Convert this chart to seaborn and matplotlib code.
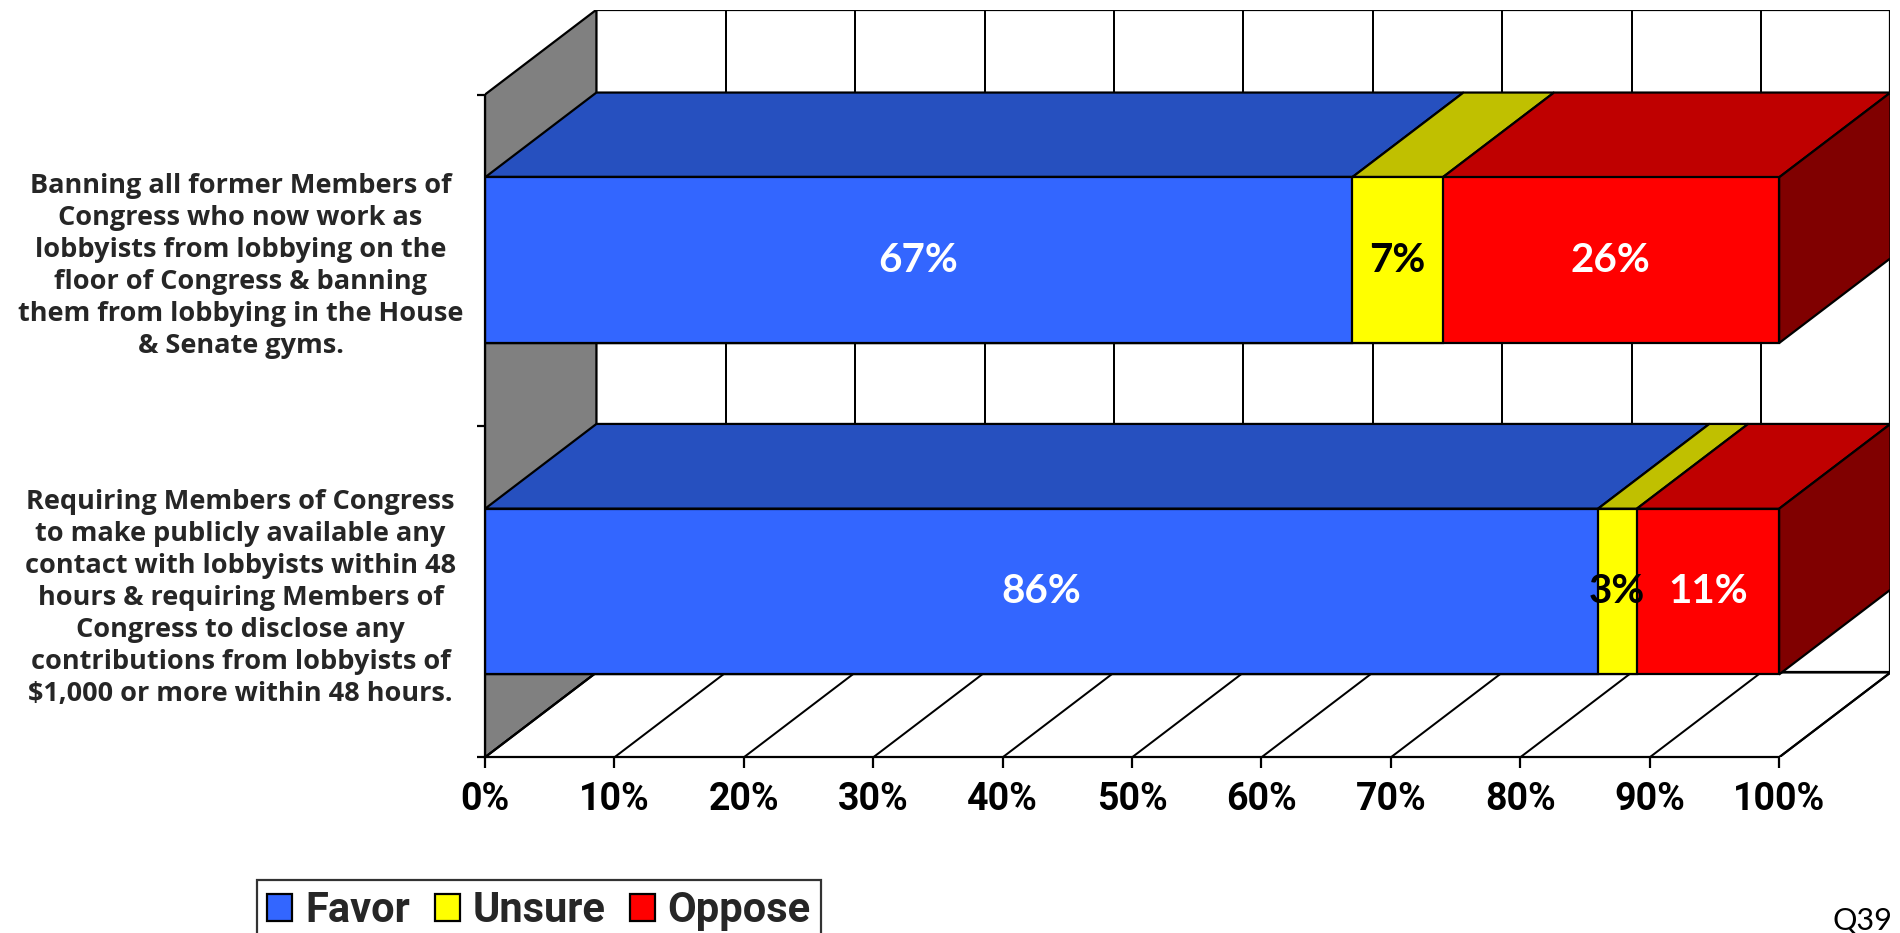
import numpy as np
import pandas as pd
import matplotlib
matplotlib.use("Agg")
import matplotlib.pyplot as plt
import seaborn as sns
from matplotlib.patches import Polygon, Patch

# ---------------- data ----------------
categories = [
    "Banning all former Members of\nCongress who now work as\nlobbyists from lobbying on the\n"
    "floor of Congress & banning\nthem from lobbying in the House\n& Senate gyms.",
    "Requiring Members of Congress\nto make publicly available any\ncontact with lobbyists within 48\n"
    "hours & requiring Members of\nCongress to disclose any\ncontributions from lobbyists of\n"
    "$1,000 or more within 48 hours.",
]
series_names = ["Favor", "Unsure", "Oppose"]
favor = [67, 86]
unsure = [7, 3]
oppose = [26, 11]
x_ticks = [0, 10, 20, 30, 40, 50, 60, 70, 80, 90, 100]
x_tick_labels = ["0%", "10%", "20%", "30%", "40%", "50%", "60%", "70%", "80%", "90%", "100%"]
footnote = "Q39"

# ---------------- style ----------------
front_colors = ["#3366FF", "#FFFF00", "#FF0000"]
top_colors = ["#2650BF", "#C0C000", "#BF0000"]
side_color = "#800000"
label_colors = ["white", "black", "white"]
wall_color = "#808080"
DX, DY, BW = 8.61, 0.256, 0.5
LW = 1.6

sns.set_style("white")
fig = plt.figure(figsize=(19, 9.33), dpi=100)
ax = fig.add_axes([0.25526, 0.1883, 0.73974, 0.8013])

y_lo, y_hi = -0.5, len(categories) - 0.5

# back wall
ax.add_patch(Polygon([(DX, y_lo - DY), (100 + DX, y_lo - DY), (100 + DX, y_hi - DY), (DX, y_hi - DY)],
                     closed=True, fc="white", ec="black", lw=LW, zorder=0.2))
for t in x_ticks:
    ax.plot([t + DX, t + DX], [y_lo - DY, y_hi - DY], color="black", lw=LW * 0.9, zorder=0.3)
# left wall
ax.add_patch(Polygon([(0, y_lo), (DX, y_lo - DY), (DX, y_hi - DY), (0, y_hi)],
                     closed=True, fc=wall_color, ec="black", lw=LW, zorder=0.4))
# floor
ax.add_patch(Polygon([(0, y_hi), (100, y_hi), (100 + DX, y_hi - DY), (DX, y_hi - DY)],
                     closed=True, fc="white", ec="black", lw=LW, zorder=0.4))
for t in x_ticks:
    ax.plot([t, t + DX], [y_hi, y_hi - DY], color="black", lw=LW * 0.9, zorder=0.45)

# top and side faces of the 3D bars
series = [favor, unsure, oppose]
for i in range(len(categories)):
    yt = i - BW / 2
    start = 0
    for k, vals in enumerate(series):
        end = start + vals[i]
        ax.add_patch(Polygon([(start, yt), (end, yt), (end + DX, yt - DY), (start + DX, yt - DY)],
                             closed=True, fc=top_colors[k], ec="black", lw=LW, zorder=0.9))
        start = end
    ax.add_patch(Polygon([(start, yt), (start + DX, yt - DY), (start + DX, yt + BW - DY), (start, yt + BW)],
                         closed=True, fc=side_color, ec="black", lw=LW, zorder=0.9))

# front faces with seaborn (cumulative bars drawn back to front)
cum = [np.array(favor) + np.array(unsure) + np.array(oppose),
       np.array(favor) + np.array(unsure),
       np.array(favor)]
for vals, col in zip(cum, [front_colors[2], front_colors[1], front_colors[0]]):
    df = pd.DataFrame({"value": vals, "question": categories})
    sns.barplot(data=df, x="value", y="question", orient="y", color=col, saturation=1,
                width=BW, edgecolor="black", linewidth=LW, ax=ax, zorder=2)

# value labels
lab_font = dict(family="Lato", fontsize=29, fontweight="bold")
for i in range(len(categories)):
    start = 0
    for k, vals in enumerate(series):
        end = start + vals[i]
        ax.text((start + end) / 2, i, f"{vals[i]}%", ha="center", va="center",
                color=label_colors[k], zorder=3, **lab_font)
        start = end

# axes
ax.set_xlim(0, 100 + DX)
ax.set_ylim(y_hi, y_lo - DY)
ax.set_xlabel("")
ax.set_ylabel("")
for s in ["top", "right"]:
    ax.spines[s].set_visible(False)
ax.spines["left"].set_bounds(y_lo, y_hi)
ax.spines["bottom"].set_bounds(0, 100)
for s in ["left", "bottom"]:
    ax.spines[s].set_linewidth(LW)
    ax.spines[s].set_color("black")
    ax.spines[s].set_zorder(2.5)

ax.set_xticks(x_ticks)
ax.set_xticklabels(x_tick_labels, family="Roboto", fontsize=27, fontweight="bold")
ax.tick_params(axis="x", which="major", bottom=True, direction="out", length=8, width=LW, pad=9, colors="black")

ax.set_yticks(range(len(categories)))
ax.set_yticklabels(categories, family="Open Sans", fontsize=19.5, fontweight="bold", linespacing=1.3)
for lab in ax.get_yticklabels():
    lab.set_ha("center")
    lab.set_multialignment("center")
ax.set_yticks([y_lo + j for j in range(len(categories) + 1)], minor=True)
ax.tick_params(axis="y", which="major", left=True, length=0, pad=176)
ax.tick_params(axis="y", which="minor", left=True, direction="out", length=6, width=LW, colors="black")

# legend
handles = [Patch(fc=c, ec="black", lw=LW) for c in front_colors]
leg = fig.legend(handles, series_names, loc="upper left", bbox_to_anchor=(257 / 1900, 1 - 880 / 933),
                 ncol=3, frameon=True, fancybox=False, edgecolor="black",
                 prop=dict(family="Roboto", size=30, weight="bold"),
                 handlelength=0.6, handleheight=0.6, handletextpad=0.3, columnspacing=0.6,
                 borderpad=0.25, borderaxespad=0)
leg.get_frame().set_linewidth(LW)

fig.text(1833 / 1900, 4 / 933, footnote, ha="left", va="baseline", fontsize=22, family="Lato", color="black")

fig.savefig("out.png", dpi=100)
